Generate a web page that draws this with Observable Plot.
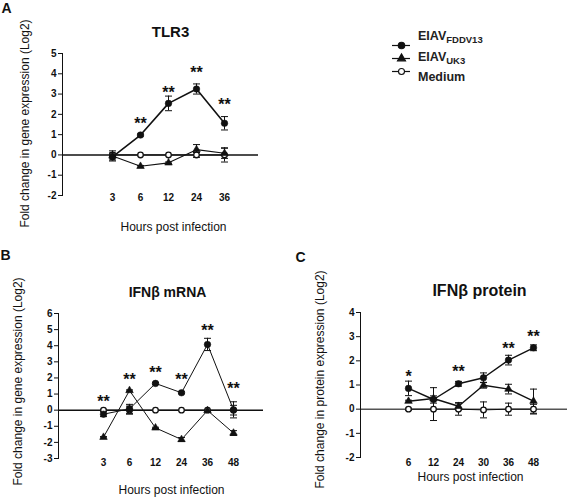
<!DOCTYPE html>
<html>
<head>
<meta charset="utf-8">
<script src="https://cdn.jsdelivr.net/npm/d3@7"></script>
<script src="https://cdn.jsdelivr.net/npm/@observablehq/plot@0.6"></script>
<style>
  html, body { margin: 0; padding: 0; background: #fff; }
  #root { position: relative; width: 567px; height: 502px; overflow: hidden; font-family: "Liberation Sans", Arial, sans-serif; }
  .panel { position: absolute; }
  .leg { position: absolute; left: 418px; font: bold 12.5px "Liberation Sans", Arial, sans-serif; color: #222; line-height: 14px; white-space: nowrap; }
  .leg sub { font-size: 9.5px; vertical-align: -3px; line-height: 0; }
</style>
</head>
<body>
<div id="root"></div>
<script>
// ---------------- DATA ----------------
const seriesNames = ["EIAV FDDV13", "EIAV UK3", "Medium"];

// Panel A: TLR3
const hoursA = ["3", "6", "12", "24", "36"];
const tlr3FDDV13 = [-0.1, 0.98, 2.54, 3.25, 1.56];
const tlr3FDDV13Err = [0.15, 0.05, 0.36, 0.25, 0.33];
const tlr3UK3 = [-0.05, -0.56, -0.39, 0.26, 0.08];
const tlr3UK3Err = [0.25, 0.04, 0.04, 0.25, 0.25];
const tlr3Medium = [0, 0, 0, 0, 0];
const tlr3MediumErr = [0.1, 0, 0, 0.12, 0.35];
const tlr3Stars = ["", "**", "**", "**", "**"];
const tlr3StarY = [null, 1.74, 3.28, 4.23, 2.67];

// Panel B: IFNβ mRNA
const hoursB = ["3", "6", "12", "24", "36", "48"];
const mrnaFDDV13 = [-0.25, 0.08, 1.66, 1.08, 4.08, 0.02];
const mrnaFDDV13Err = [0.15, 0.28, 0.06, 0.06, 0.38, 0.5];
const mrnaUK3 = [-1.68, 1.22, -1.1, -1.82, -0.02, -1.42];
const mrnaUK3Err = [0.04, 0.04, 0.04, 0.12, 0.04, 0.15];
const mrnaMedium = [0, 0, 0, 0, 0, 0];
const mrnaMediumErr = [0.05, 0.25, 0, 0, 0, 0.3];
const mrnaStars = ["**", "**", "**", "**", "**", "**"];
const mrnaStarY = [0.75, 2.1, 2.57, 2.1, 5.2, 1.6];

// Panel C: IFNβ protein
const hoursC = ["6", "12", "24", "30", "36", "48"];
const protFDDV13 = [0.86, 0.4, 1.05, 1.3, 2.03, 2.54];
const protFDDV13Err = [0.3, 0.15, 0.1, 0.2, 0.2, 0.12];
const protUK3 = [0.33, 0.44, 0.12, 0.99, 0.83, 0.33];
const protUK3Err = [0.04, 0.45, 0.15, 0.12, 0.2, 0.5];
const protMedium = [0, 0, 0, -0.03, 0, 0];
const protMediumErr = [0.04, 0.47, 0.25, 0.33, 0.25, 0.2];
const protStars = ["*", "", "**", "", "**", "**"];
const protStarY = [1.5, null, 1.71, null, 2.68, 3.17];

// ---------------- DRAWING ----------------
const FONT = '"Liberation Sans", Arial, sans-serif';
const cap = { draw(ctx, size) { const w = 3.5; ctx.moveTo(-w, 0); ctx.lineTo(w, 0); } };

const mk = (hours, vals, errs) => hours.map((h, i) => ({ h, v: vals[i], e: errs[i] }));

function errMarks(data) {
  const d = data.filter(p => p.e > 0);
  return [
    Plot.ruleX(d, { x: "h", y1: p => p.v - p.e, y2: p => p.v + p.e, stroke: "#111", strokeWidth: 1 }),
    Plot.dot(d, { x: "h", y: p => p.v + p.e, symbol: cap, stroke: "#111", strokeWidth: 1, r: 3 }),
    Plot.dot(d, { x: "h", y: p => p.v - p.e, symbol: cap, stroke: "#111", strokeWidth: 1, r: 3 })
  ];
}

function panel(o) {
  const f = mk(o.hours, o.fddv, o.fddvErr);
  const u = mk(o.hours, o.uk3, o.uk3Err);
  const m = mk(o.hours, o.med, o.medErr);
  const stars = o.hours.map((h, i) => ({ h, s: o.stars[i], y: o.starY[i] })).filter(d => d.s);
  const txt = (s, cx, cy, extra) => Plot.text([s], Object.assign({
    frameAnchor: "top-left", dx: cx - o.mL, dy: cy - o.mT, text: d => d,
    fill: "#111", fontFamily: FONT, textAnchor: "middle", lineAnchor: "middle"
  }, extra));
  const svg = Plot.plot({
    width: o.w, height: o.h,
    marginLeft: o.mL, marginRight: o.mR, marginTop: o.mT, marginBottom: o.mB,
    style: { fontFamily: FONT, color: "#111", background: "transparent", overflow: "visible" },
    x: { type: "point", domain: o.hours, range: o.xRange, label: null },
    y: { domain: o.yDomain, label: null },
    marks: [
      Plot.ruleY([0], { stroke: o.zeroColor, strokeWidth: 1.5 }),
      Plot.frame({ anchor: "left", stroke: "#111", strokeWidth: 1 }),
      Plot.axisY({ ticks: d3.range(o.yDomain[0], o.yDomain[1] + 1), tickSize: 4, tickPadding: 2,
        tickFormat: d => String(d), fontSize: 10, fontWeight: "bold", label: null, stroke: "#111" }),
      Plot.axisX({ tickSize: 0, tickPadding: o.xPad, fontSize: 10, fontWeight: "bold", label: null }),
      Plot.line(m, { x: "h", y: "v", stroke: "#111", strokeWidth: 1 }),
      Plot.line(u, { x: "h", y: "v", stroke: "#111", strokeWidth: o.lwU }),
      Plot.line(f, { x: "h", y: "v", stroke: "#111", strokeWidth: o.lwF }),
      ...errMarks(m), ...errMarks(u), ...errMarks(f),
      Plot.dot(m, { x: "h", y: "v", symbol: "circle", r: 2.8, fill: "white", stroke: "#111", strokeWidth: 1.3 }),
      Plot.dot(u, { x: "h", y: "v", symbol: "triangle", r: 2.8, fill: "#111", stroke: "#111", strokeWidth: 0.6 }),
      Plot.dot(f, { x: "h", y: "v", symbol: "circle", r: 3.3, fill: "#111", stroke: "#111", strokeWidth: 0.5 }),
      Plot.text(stars, { x: "h", y: "y", text: "s", fontSize: 16, fontWeight: "bold", fill: "#111", dy: 4, fontFamily: FONT }),
      txt(o.title, o.titleX, o.titleY, { fontSize: o.titleSize, fontWeight: "bold" }),
      txt("Hours post infection", o.xlabX, o.xlabY, { fontSize: 12 }),
      txt(o.ylabel, o.ylabX, o.ylabY, { fontSize: 12, rotate: -90 }),
      txt(o.letter, o.letX, o.letY, { fontSize: 14, fontWeight: "bold" })
    ]
  });
  svg.classList.add("panel");
  svg.style.left = o.left + "px";
  svg.style.top = o.top + "px";
  return svg;
}

const root = document.getElementById("root");

root.appendChild(panel({
  left: 0, top: 0, w: 290, h: 250, mL: 62, mR: 32, mT: 53, mB: 55,
  hours: hoursA, fddv: tlr3FDDV13, fddvErr: tlr3FDDV13Err, uk3: tlr3UK3, uk3Err: tlr3UK3Err,
  med: tlr3Medium, medErr: tlr3MediumErr, stars: tlr3Stars, starY: tlr3StarY,
  xRange: [97, 238], yDomain: [-2, 5], xPad: -2, zeroColor: "#111", lwF: 1.6, lwU: 1.1,
  title: "TLR3", titleX: 170, titleY: 32, titleSize: 15,
  xlabX: 173, xlabY: 227, ylabel: "Fold change in gene expression (Log2)", ylabX: 25, ylabY: 123,
  letter: "A", letX: 6, letY: 8
}));

root.appendChild(panel({
  left: 0, top: 250, w: 280, h: 252, mL: 58, mR: 17, mT: 63, mB: 44,
  hours: hoursB, fddv: mrnaFDDV13, fddvErr: mrnaFDDV13Err, uk3: mrnaUK3, uk3Err: mrnaUK3Err,
  med: mrnaMedium, medErr: mrnaMediumErr, stars: mrnaStars, starY: mrnaStarY,
  xRange: [89, 247], yDomain: [-3, 6], xPad: 0, zeroColor: "#111", lwF: 1, lwU: 1,
  title: "IFNβ mRNA", titleX: 167, titleY: 42, titleSize: 14,
  xlabX: 171, xlabY: 240, ylabel: "Fold change in gene expression (Log2)", ylabX: 18, ylabY: 131,
  letter: "B", letX: 5, letY: 5
}));

root.appendChild(panel({
  left: 280, top: 250, w: 287, h: 252, mL: 80, mR: 0, mT: 62, mB: 45,
  hours: hoursC, fddv: protFDDV13, fddvErr: protFDDV13Err, uk3: protUK3, uk3Err: protUK3Err,
  med: protMedium, medErr: protMediumErr, stars: protStars, starY: protStarY,
  xRange: [113, 268], yDomain: [-2, 4], xPad: 1, zeroColor: "#555", lwF: 1.4, lwU: 1.4,
  title: "IFNβ protein", titleX: 199, titleY: 40, titleSize: 16,
  xlabX: 190, xlabY: 227, ylabel: "Fold change in protein expression (Log2)", ylabX: 40, ylabY: 129,
  letter: "C", letX: 20, letY: 7
}));

// Legend symbols (Plot) + labels (HTML with subscripts)
const legData = seriesNames.map((name, i) => ({ name, i }));
const legSvg = Plot.plot({
  width: 18, height: 62, margin: 0,
  style: { background: "transparent", overflow: "visible" },
  y: { type: "point", domain: seriesNames, range: [10, 51], axis: null },
  marks: [
    Plot.ruleY(legData, { y: "name", stroke: "#111", strokeWidth: 1.2 }),
    Plot.dot(legData, { y: "name", frameAnchor: "middle",
      symbol: d => ["circle", "triangle", "circle"][d.i],
      r: d => [3.3, 2.8, 2.8][d.i],
      fill: d => d.i === 2 ? "white" : "#111", stroke: "#111", strokeWidth: 1.1 })
  ]
});
legSvg.classList.add("panel");
legSvg.style.left = "392px";
legSvg.style.top = "27px";
root.appendChild(legSvg);

const legLabels = [["EIAV", "FDDV13"], ["EIAV", "UK3"], ["Medium", ""]];
const legRowY = [37, 57.5, 78];
legLabels.forEach(([main, sub], i) => {
  const div = document.createElement("div");
  div.className = "leg";
  div.style.top = (legRowY[i] - 8) + "px";
  div.innerHTML = main + (sub ? "<sub>" + sub + "</sub>" : "");
  root.appendChild(div);
});
</script>
</body>
</html>
